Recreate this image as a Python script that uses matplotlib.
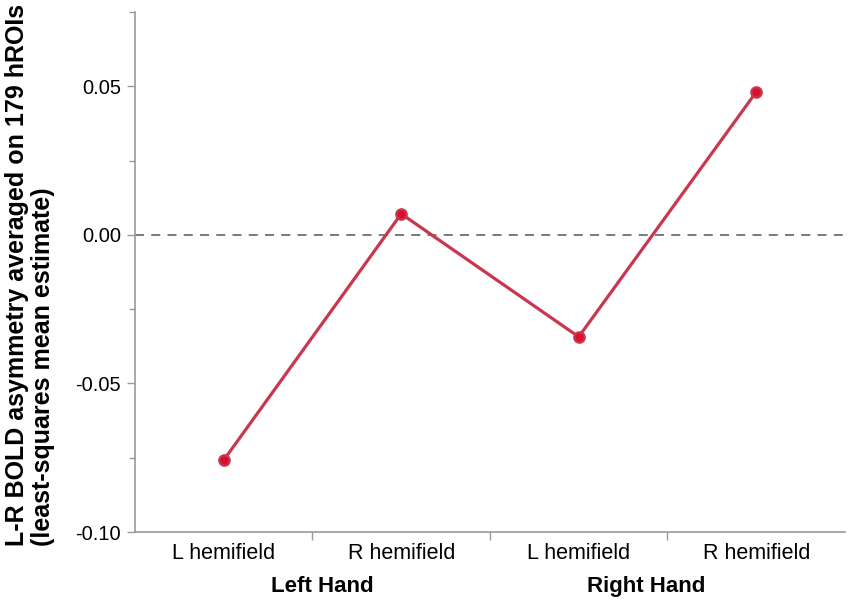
import matplotlib
matplotlib.use("Agg")
import matplotlib.pyplot as plt
from matplotlib.ticker import MultipleLocator
from matplotlib import font_manager

categories = ["L hemifield", "R hemifield", "L hemifield", "R hemifield"]
groups = ["Left Hand", "Right Hand"]
values = [-0.0758, 0.0071, -0.0343, 0.0481]
yticks = [-0.10, -0.05, 0.00, 0.05]
ytick_labels = ["-0.10", "-0.05", "0.00", "0.05"]

plt.rcParams['font.family'] = ['Liberation Sans', 'DejaVu Sans']
names = {f.name for f in font_manager.fontManager.ttflist}
narrow = 'Liberation Sans Narrow' in names

fig = plt.figure(figsize=(8.5, 6.04), dpi=100)
ax = fig.add_axes([0.1588, 0.1192, 0.9941 - 0.1588, 0.980 - 0.1192])

x = list(range(len(values)))
ax.axhline(0, color="#707070", lw=1.3, ls=(0, (5, 4)), zorder=1)
ax.plot(x, values, color="#C8374F", lw=2.3, marker="o", markersize=7.5,
        markerfacecolor="#D8102E", markeredgecolor="#C8374F", markeredgewidth=1.6, zorder=3)

ax.set_xlim(-0.5, 3.5)
ax.set_ylim(-0.10, 0.075)

ax.set_yticks(yticks)
ax.set_yticklabels(ytick_labels, fontsize=14.5)
ax.yaxis.set_minor_locator(MultipleLocator(0.025))

ax.set_xticks([0.5, 1.5, 2.5])
ax.set_xticklabels([])
ax.set_xticks(x, minor=True)
ax.set_xticklabels(categories, minor=True, fontsize=15.5)
ax.tick_params(axis='x', which='minor', length=0, pad=8)
ax.tick_params(axis='both', which='major', length=6, color="#999999", width=1)
ax.tick_params(axis='y', which='minor', length=4, color="#999999", width=1)
ax.tick_params(axis='y', which='major', pad=4)

for s in ["top", "right"]:
    ax.spines[s].set_visible(False)
for s in ["left", "bottom"]:
    ax.spines[s].set_color("#999999")
    ax.spines[s].set_linewidth(1.2)

ax.text(0.553, -0.1185, groups[0], ha="center", va="center", fontsize=16, fontweight="bold")
ax.text(2.379, -0.1185, groups[1], ha="center", va="center", fontsize=16, fontweight="bold")

if narrow:
    yfam = ['Liberation Sans Narrow', 'Liberation Sans', 'DejaVu Sans']
    ysize = 21
else:
    yfam = ['Liberation Sans', 'DejaVu Sans']
    ysize = 18
fig.text(0.0355, 0.545, "L-R BOLD asymmetry averaged on 179 hROIs\n(least-squares mean estimate)",
         rotation=90, ha="center", va="center", fontsize=ysize, fontweight="bold",
         linespacing=1.08, family=yfam, multialignment="left")

fig.savefig("out.png", dpi=100)
